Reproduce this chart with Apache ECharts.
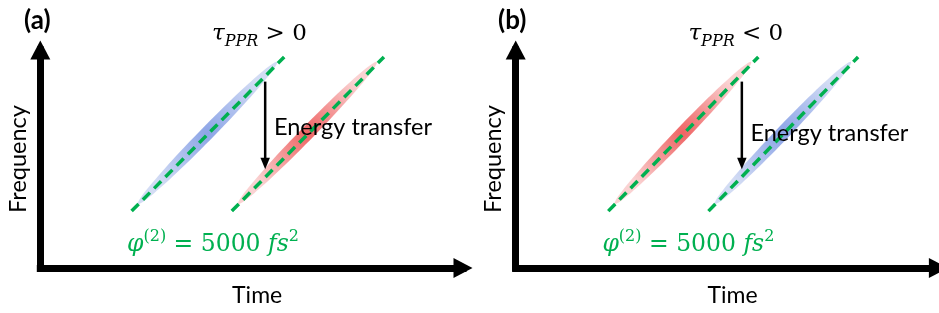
<!DOCTYPE html>
<html><head><meta charset="utf-8">
<script src="https://cdn.jsdelivr.net/npm/echarts@6/dist/echarts.min.js"></script>
<style>html,body{margin:0;padding:0;background:#fff}#c{width:939px;height:313px}</style>
</head><body><div id="c"></div>
<script>
// ---------- data ----------
const panelLabels = ['(a)', '(b)'];
const xAxisName = 'Time';
const yAxisName = 'Frequency';
const axisMin = 0, axisMax = 10;
const delaySigns = ['>', '<'];            // tau_PPR > 0 / < 0
const transferText = 'Energy transfer';

// green dashed chirp guides: [[tStart, fStart], [tEnd, fEnd]]
const chirpLinesA = [[[2.16, 2.61], [5.77, 9.68]], [[4.53, 2.61], [8.13, 9.68]]];
const chirpLinesB = [[[2.19, 2.61], [5.74, 9.68]], [[4.56, 2.61], [8.10, 9.68]]];
// chirped pulses: [tStart, fStart, tEnd, fEnd]
const bluePulseA = [2.31, 2.94, 5.60, 9.45];
const redPulseA  = [4.68, 2.94, 7.96, 9.45];
const redPulseB  = [2.34, 2.94, 5.57, 9.45];
const bluePulseB = [4.71, 2.94, 7.93, 9.45];
// energy transfer arrows: [t, fFrom, fTo]
const transferArrowA = [5.32, 8.55, 4.53];
const transferArrowB = [5.35, 8.55, 4.53];

// ---------- styles ----------
const GREEN = '#00B050';
const SANS = 'Lato';
const MATH = 'DejaVu Serif';
const blueStops = [{offset: 0, color: '#8CA4E6'}, {offset: 0.5, color: '#AFC0EE'}, {offset: 1, color: '#D3DCF4'}];
const redStops  = [{offset: 0, color: '#EF6464'}, {offset: 0.5, color: '#F49A9A'}, {offset: 1, color: '#FAD2D2'}];

function pulseRender(stops) {
  return function (params, api) {
    const p0 = api.coord([api.value(0), api.value(1)]);
    const p1 = api.coord([api.value(2), api.value(3)]);
    const cx = (p0[0] + p1[0]) / 2, cy = (p0[1] + p1[1]) / 2;
    const dx = p1[0] - p0[0], dy = p1[1] - p0[1];
    const L = Math.hypot(dx, dy) / 2;
    const ux = dx / (2 * L), uy = dy / (2 * L), vx = -uy, vy = ux;
    const W = 6.8, pts = [];
    for (let i = 0; i < 90; i++) {
      const t = i / 90 * 2 * Math.PI;
      const a = Math.cos(t) * L, b = Math.sin(t) * W;
      pts.push([cx + a * ux + b * vx, cy + a * uy + b * vy]);
    }
    return {type: 'polygon', shape: {points: pts},
      style: {fill: new echarts.graphic.RadialGradient(0.5, 0.5, 0.5, stops)}};
  };
}
function arrowRender(params, api) {
  const top = api.coord([api.value(0), api.value(1)]);
  const tip = api.coord([api.value(0), api.value(2)]);
  const hl = 11.5, hw = 9.5;
  return {type: 'group', children: [
    {type: 'line', shape: {x1: top[0], y1: top[1], x2: tip[0], y2: tip[1] - hl + 1},
      style: {stroke: '#000', lineWidth: 2.5}},
    {type: 'polygon', shape: {points: [[tip[0] - hw / 2, tip[1] - hl], [tip[0] + hw / 2, tip[1] - hl], [tip[0], tip[1]]]},
      style: {fill: '#000'}}
  ]};
}

const grids = [
  {left: 40.3, top: 50, width: 422.7, height: 218},
  {left: 515.7, top: 50, width: 422.7, height: 218}
];
const axisLine = (sym) => ({show: true, onZero: false, symbol: ['none', 'triangle'], symbolSize: sym,
  lineStyle: {color: '#000', width: 7, cap: 'square'}});

const xAxes = [0, 1].map(i => ({gridIndex: i, type: 'value', min: axisMin, max: axisMax,
  name: xAxisName, nameLocation: 'middle', nameGap: 16,
  nameTextStyle: {fontFamily: SANS, fontSize: 23, color: '#000', padding: [0, 0, 0, 11]},
  axisLine: axisLine([20, 19]), axisTick: {show: false}, axisLabel: {show: false}, splitLine: {show: false}}));
const yAxes = [0, 1].map(i => ({gridIndex: i, type: 'value', min: axisMin, max: axisMax,
  name: yAxisName, nameLocation: 'middle', nameGap: 10,
  nameTextStyle: {fontFamily: SANS, fontSize: 23.5, color: '#000'},
  axisLine: axisLine([20, 19]), axisTick: {show: false}, axisLabel: {show: false}, splitLine: {show: false}}));

function dashLine(pts, gi) {
  return {type: 'line', xAxisIndex: gi, yAxisIndex: gi, data: pts, showSymbol: false, symbol: 'none',
    lineStyle: {color: GREEN, width: 3.5, type: [10, 6]}, z: 5, silent: true};
}
function pulse(d, stops, gi) {
  return {type: 'custom', xAxisIndex: gi, yAxisIndex: gi, data: [d], renderItem: pulseRender(stops), z: 2, silent: true};
}
function arrow(d, gi) {
  return {type: 'custom', xAxisIndex: gi, yAxisIndex: gi, data: [d], renderItem: arrowRender, z: 6, silent: true};
}

const series = [
  pulse(bluePulseA, blueStops, 0), pulse(redPulseA, redStops, 0),
  pulse(redPulseB, redStops, 1), pulse(bluePulseB, blueStops, 1),
  ...chirpLinesA.map(l => dashLine(l, 0)), ...chirpLinesB.map(l => dashLine(l, 1)),
  arrow(transferArrowA, 0), arrow(transferArrowB, 1)
];

const mathRich = (color, fs, ss) => ({
  m: {fontFamily: MATH, fontStyle: 'italic', fontSize: fs, lineHeight: 32, fill: color, color: color},
  n: {fontFamily: MATH, fontSize: fs, lineHeight: 32, fill: color, color: color},
  sub: {fontFamily: MATH, fontStyle: 'italic', fontSize: ss, lineHeight: ss, verticalAlign: 'bottom', fill: color, color: color},
  sup: {fontFamily: MATH, fontSize: ss, lineHeight: ss, verticalAlign: 'top', fill: color, color: color}
});

const panelOffsets = [0, 475.4];
const graphic = [];
panelOffsets.forEach((dx, i) => {
  graphic.push({type: 'text', x: 212 + dx + (i ? 1 : 0), y: 18, z: 10,
    style: {text: '{m|τ}{sub|PPR}{n| ' + delaySigns[i] + ' 0}', rich: mathRich('#000', 23, 16), fill: '#000'}});
  graphic.push({type: 'text', x: 127 + dx, y: 229, z: 10,
    style: {text: '{m|φ}{sup|(2)}{n| = 5000 }{m|fs}{sup|2}', rich: mathRich(GREEN, 23.5, 16), fill: GREEN}});
  graphic.push({type: 'text', x: 274 + dx + (i ? 1 : 0), y: i ? 133 : 127, z: 10,
    style: {text: transferText, fontFamily: SANS, fontSize: 23.5, fill: '#000', verticalAlign: 'middle'}});
});

const option = {
  animation: false,
  backgroundColor: '#fff',
  title: panelLabels.map((t, i) => ({text: t, left: [24, 498][i], top: 8, padding: 0,
    textStyle: {fontFamily: SANS, fontWeight: 'bold', fontSize: 26, color: '#000'}})),
  grid: grids, xAxis: xAxes, yAxis: yAxes, series, graphic
};
const chart = echarts.init(document.getElementById('c'), null, {renderer: 'canvas'});
chart.setOption(option);
</script></body></html>
